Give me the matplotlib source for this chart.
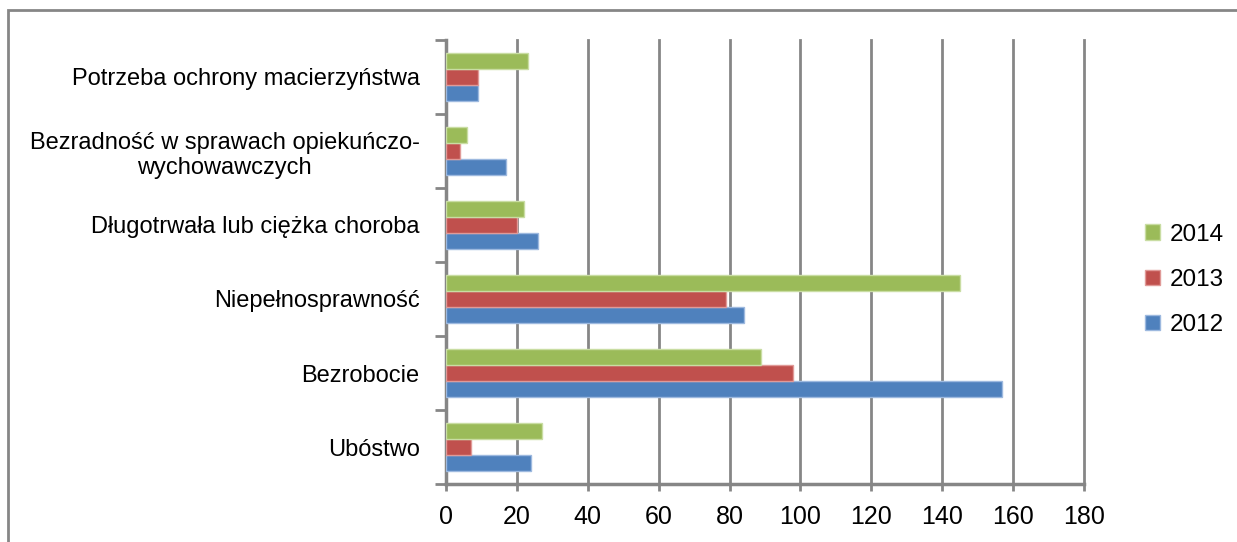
import matplotlib
matplotlib.use('Agg')
from matplotlib import pyplot as plt
from matplotlib.patches import Rectangle
import numpy as np

plt.rcParams['font.family'] = ['Liberation Sans', 'DejaVu Sans']

# kategorie od dołu do góry
categories = ['Ubóstwo', 'Bezrobocie', 'Niepełnosprawność',
              'Długotrwała lub ciężka choroba',
              'Bezradność w sprawach opiekuńczo-\nwychowawczych',
              'Potrzeba ochrony macierzyństwa']
years = ['2012', '2013', '2014']
v2012 = [24, 157, 84, 26, 17, 9]
v2013 = [7, 98, 79, 20, 4, 9]
v2014 = [27, 89, 145, 22, 6, 23]
colors = ['#4F81BD', '#C0504D', '#9BBB59']
edges = ['#9DB9DF', '#E09A98', '#C9DDA3']

fig = plt.figure(figsize=(12.37, 5.42), dpi=100)
ax = fig.add_axes([446 / 1237, 1 - 484 / 542, (1084 - 446) / 1237, (484 - 40) / 542])

y = np.arange(len(categories))
h = 0.22
for k, (vals, c, ec) in enumerate(zip([v2012, v2013, v2014], colors, edges)):
    ax.barh(y + (k - 1) * h, vals, height=h, color=c, edgecolor=ec,
            linewidth=1, label=years[k], zorder=3)

ax.set_xlim(0, 180)
ax.set_ylim(-0.5, len(categories) - 0.5)
ax.set_xticks(np.arange(0, 181, 20))
ax.grid(axis='x', color='#868686', linewidth=2, zorder=0)
for gl in ax.get_xgridlines():
    gl.set_clip_on(False)

# podziałki na granicach kategorii, etykiety w środku
ax.set_yticks(np.arange(-0.5, len(categories), 1))
ax.set_yticklabels([])
ax.set_yticks(y, minor=True)
ax.set_yticklabels(categories, minor=True, fontsize=17)
for t in ax.get_yticklabels(minor=True):
    t.set_multialignment('center')
ax.tick_params(axis='y', which='major', length=8, width=2, color='#868686', direction='out')
ax.tick_params(axis='y', which='minor', length=0, pad=19)
ax.tick_params(axis='x', length=5, width=2, color='#868686', labelsize=18, pad=10)

for s in ['top', 'right']:
    ax.spines[s].set_visible(False)
for s in ['left', 'bottom']:
    ax.spines[s].set_color('#868686')
    ax.spines[s].set_linewidth(2.5)

handles, labels = ax.get_legend_handles_labels()
fig.legend(handles[::-1], labels[::-1], loc='center left',
           bbox_to_anchor=(1123 / 1237, 1 - 280 / 542), frameon=False,
           fontsize=17.5, handlelength=0.62, handleheight=0.62,
           handletextpad=0.4, labelspacing=0.95)

# ramka wykresu
fig.patches.append(Rectangle((8 / 1237, -0.1), 1.2, 1.1 - 10 / 542,
                             transform=fig.transFigure, fill=False,
                             edgecolor='#868686', linewidth=2))

fig.savefig('out.png', dpi=100)
